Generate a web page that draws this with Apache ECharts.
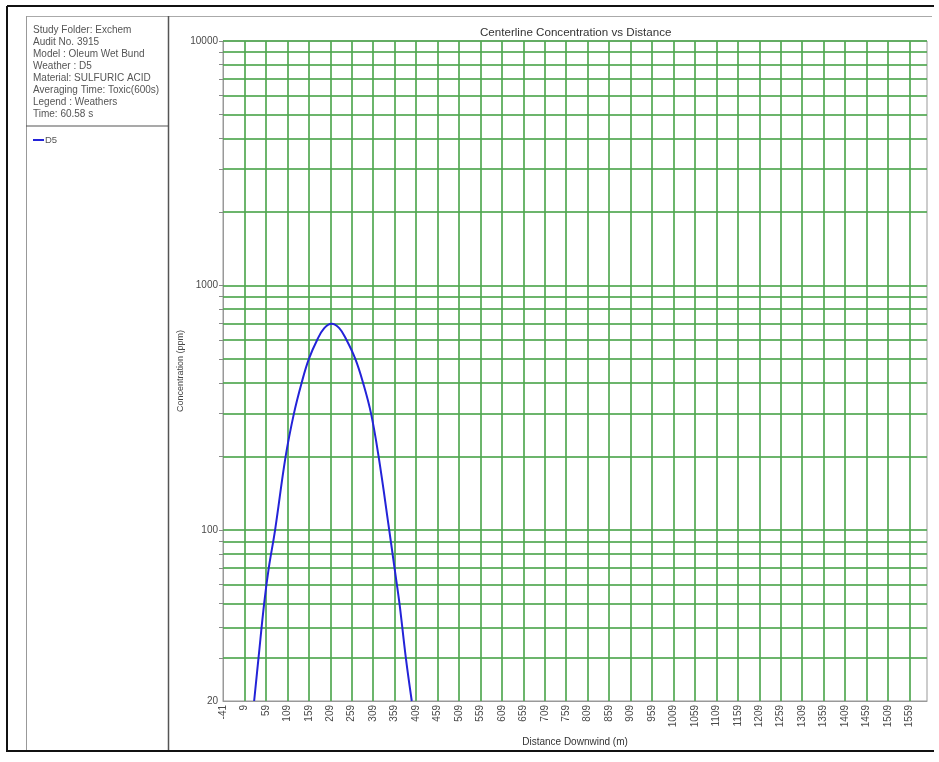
<!DOCTYPE html>
<html>
<head>
<meta charset="utf-8">
<script src="https://cdn.jsdelivr.net/npm/echarts@6/dist/echarts.min.js"></script>
<style>
html,body{margin:0;padding:0;background:#fff;}
#chart{width:939px;height:762px;}
</style>
</head>
<body>
<div id="chart"></div>
<script>
// ---- data ----
var titleText = 'Centerline Concentration vs Distance';
var xAxisName = 'Distance Downwind (m)';
var yAxisName = 'Concentration (ppm)';
var infoLines = [
  'Study Folder: Exchem',
  'Audit No. 3915',
  'Model : Oleum Wet Bund',
  'Weather : D5',
  'Material: SULFURIC ACID',
  'Averaging Time: Toxic(600s)',
  'Legend : Weathers',
  'Time: 60.58 s'
];
var seriesName = 'D5';
var distance = [31.6, 41.8, 54.9, 65.7, 80.4, 105, 124.4, 142.3, 159, 178.7, 195, 212, 230, 246.7, 267.6, 285.5, 304, 321.7, 346.5, 358.8, 370.4, 385.2, 399];
var concentration = [20, 30, 50, 70, 100, 200, 300, 400, 500, 600, 670, 698, 670, 600, 500, 400, 300, 200, 100, 70, 50, 30, 20];
var xMin = -41, xMax = 1600;
var xTicks = [-41, 9, 59, 109, 159, 209, 259, 309, 359, 409, 459, 509, 559, 609, 659, 709, 759, 809, 859, 909, 959, 1009, 1059, 1109, 1159, 1209, 1259, 1309, 1359, 1409, 1459, 1509, 1559];
var yMin = 20, yMax = 10000;
var yTickLabels = [20, 100, 1000, 10000];
var yGrid = [30, 40, 50, 60, 70, 80, 90, 100, 200, 300, 400, 500, 600, 700, 800, 900, 1000, 2000, 3000, 4000, 5000, 6000, 7000, 8000, 9000, 10000];

// ---- chart ----
var gridGreen = '#52a852';
var gridWidth = 2;
var textGray = '#4a4a4a';
var fontFam = '"Liberation Sans", Arial, sans-serif';
var chart = echarts.init(document.getElementById('chart'), null, {renderer: 'canvas'});

var seriesData = distance.map(function (d, i) { return [d, concentration[i]]; });

var gridLines = yGrid.map(function (v) { return {yAxis: v}; })
  .concat(xTicks.slice(1).map(function (v) { return {xAxis: v}; }));

var graphics = [
  {type: 'line', shape: {x1: 7, y1: 6, x2: 934, y2: 6}, style: {stroke: '#111', lineWidth: 2}, silent: true},
  {type: 'line', shape: {x1: 7, y1: 6, x2: 7, y2: 752}, style: {stroke: '#111', lineWidth: 2}, silent: true},
  {type: 'line', shape: {x1: 7, y1: 751, x2: 934, y2: 751}, style: {stroke: '#111', lineWidth: 2}, silent: true},
  {type: 'line', shape: {x1: 26, y1: 16.5, x2: 932, y2: 16.5}, style: {stroke: '#aaa', lineWidth: 1}, silent: true},
  {type: 'line', shape: {x1: 26.5, y1: 16, x2: 26.5, y2: 750}, style: {stroke: '#999', lineWidth: 1}, silent: true},
  {type: 'line', shape: {x1: 168.5, y1: 16, x2: 168.5, y2: 750}, style: {stroke: '#555', lineWidth: 1.5}, silent: true},
  {type: 'line', shape: {x1: 26, y1: 126, x2: 168, y2: 126}, style: {stroke: '#555', lineWidth: 1.2}, silent: true},
  {type: 'text', left: 33, top: 24, silent: true,
    style: {text: infoLines.join('\n'), font: '10px ' + fontFam, fill: '#555', lineHeight: 12}}
];

chart.setOption({
  animation: false,
  title: {
    text: titleText, left: 475, top: 22,
    textStyle: {fontSize: 11.6, fontWeight: 'normal', color: '#333', fontFamily: fontFam}
  },
  legend: {
    show: true, left: 28, top: 130, orient: 'vertical',
    icon: 'rect', itemWidth: 11, itemHeight: 2, itemGap: 4,
    textStyle: {fontSize: 9.5, color: '#555', fontFamily: fontFam, padding: [0, 0, 0, -4]},
    data: [seriesName]
  },
  grid: {
    left: 223, top: 41, right: 12, bottom: 61,
    show: true, borderColor: '#999', borderWidth: 1, containLabel: false
  },
  xAxis: {
    type: 'value', min: xMin, max: xMax,
    name: xAxisName, nameLocation: 'middle', nameGap: 36,
    nameTextStyle: {fontSize: 10, color: '#333', fontFamily: fontFam},
    axisLine: {show: true, onZero: false, lineStyle: {color: '#999', width: 1}},
    axisTick: {show: false},
    axisLabel: {
      customValues: xTicks,
      rotate: 90, fontSize: 10, color: textGray, margin: 4,
      fontFamily: fontFam,
      formatter: function (v) { return String(v); }
    },
    splitLine: {show: false}
  },
  yAxis: {
    type: 'log', logBase: 10, min: yMin, max: yMax,
    name: yAxisName, nameLocation: 'middle', nameGap: 38, nameMoveOverlap: false,
    nameTextStyle: {fontSize: 9, color: '#444', fontFamily: fontFam},
    axisLine: {show: true, onZero: false, lineStyle: {color: '#999', width: 1}},
    axisTick: {show: true, length: 4, customValues: yGrid, lineStyle: {color: '#888'}},
    axisLabel: {
      customValues: yTickLabels,
      fontSize: 10, color: textGray, margin: 5, fontFamily: fontFam,
      formatter: function (v) { return String(Math.round(v)); }
    },
    splitLine: {show: false}
  },
  series: [{
    name: seriesName, type: 'line', data: seriesData,
    showSymbol: false, smooth: 0.4, clip: true,
    lineStyle: {color: '#2323d8', width: 2}, itemStyle: {color: '#2323d8'},
    z: 5,
    markLine: {
      silent: true, symbol: ['none', 'none'], label: {show: false},
      lineStyle: {color: gridGreen, type: 'solid', width: gridWidth, opacity: 0.85},
      emphasis: {disabled: true},
      data: gridLines
    }
  }],
  graphic: graphics
});
</script>
</body>
</html>
